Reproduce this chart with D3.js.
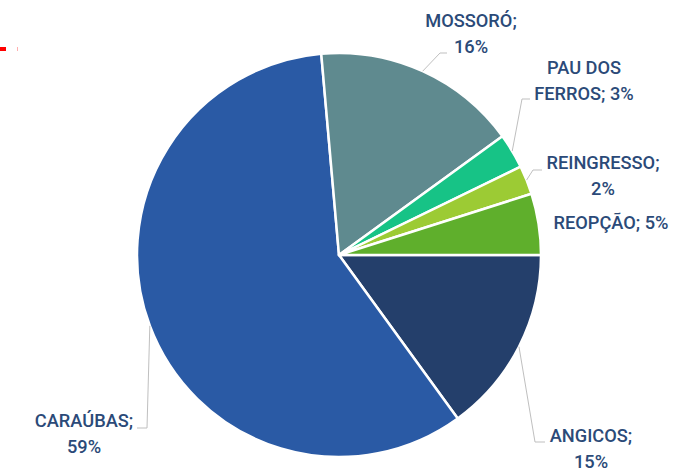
<!DOCTYPE html>
<head>
	<script src="https://d3js.org/d3.v7.min.js"></script>
	<style>
		body { margin: 0; background: #fff; }
		text { font-family: Roboto, "Liberation Sans", sans-serif; font-weight: 500; fill: #2b4a78; }
	</style>
</head>
<body>
<svg></svg>
<script>
	// data, alphabetical like the source sheet
	var campus = ["ANGICOS", "CARAÚBAS", "MOSSORÓ", "PAU DOS FERROS", "REINGRESSO", "REOPÇÃO"];
	var share = [15.0, 58.6, 16.4, 2.8, 2.3, 4.9];
	var labelLines = [["ANGICOS;", "15%"], ["CARAÚBAS;", "59%"], ["MOSSORÓ;", "16%"], ["PAU DOS", "FERROS; 3%"], ["REINGRESSO;", "2%"], ["REOPÇÃO; 5%"]];
	var colors = ["#243f6b", "#2a5aa5", "#5f8a8f", "#17c386", "#9ccb34", "#5faf2c"];

	var width = 697, height = 472;
	var cx = 339, cy = 255, r = 202;

	// label placement: text centre x, first baseline y, leader elbow and end
	var layout = {
		"ANGICOS":        { x: 591, y: 442, elbow: [535, 442], end: [545, 442] },
		"CARAÚBAS":       { x: 84,  y: 427, elbow: [147, 428], end: [137, 428] },
		"MOSSORÓ":        { x: 471, y: 27,  elbow: [440, 53],  end: [447, 53] },
		"PAU DOS FERROS": { x: 584, y: 74,  elbow: [522, 99],  end: [530, 99] },
		"REINGRESSO":     { x: 603, y: 169, elbow: [533, 170], end: [542, 170] },
		"REOPÇÃO":        { x: 611, y: 229 }
	};

	var svg = d3.select("svg")
		.attr("width", width)
		.attr("height", height);

	// small red mark at the left edge
	svg.append("rect").attr("x", 0).attr("y", 47).attr("width", 6).attr("height", 4).attr("fill", "#ff0000");
	svg.append("rect").attr("x", 17).attr("y", 47).attr("width", 1).attr("height", 4).attr("fill", "#ffb0b0");

	var pie = d3.pie()
		.sort(null)
		.value(function(d) { return d; })
		.startAngle(Math.PI / 2)
		.endAngle(Math.PI / 2 + 2 * Math.PI);

	var arcs = pie(share);

	var arc = d3.arc().innerRadius(0).outerRadius(r);
	var edge = d3.arc().innerRadius(r).outerRadius(r);

	var g = svg.append("g").attr("transform", "translate(" + cx + "," + cy + ")");

	g.selectAll("path.slice")
		.data(arcs)
		.enter()
		.append("path")
		.attr("class", "slice")
		.attr("d", arc)
		.attr("fill", function(d, i) { return colors[i]; })
		.attr("stroke", "#fff")
		.attr("stroke-width", 2.5)
		.attr("stroke-linejoin", "round");

	// leader lines
	arcs.forEach(function(d, i) {
		var l = layout[campus[i]];
		if (!l.elbow) return;
		var p = edge.centroid(d);
		var pts = [[p[0] + cx, p[1] + cy], l.elbow, l.end];
		svg.append("path")
			.attr("d", d3.line()(pts))
			.attr("fill", "none")
			.attr("stroke", "#bfbfbf")
			.attr("stroke-width", 1);
	});

	// labels (slightly narrowed to look like the condensed original)
	campus.forEach(function(c, i) {
		var l = layout[c];
		var t = svg.append("g")
			.attr("transform", "translate(" + l.x + "," + l.y + ") scale(0.96,1)");
		labelLines[i].forEach(function(line, k) {
			t.append("text")
				.attr("x", 0)
				.attr("y", k * 26)
				.attr("text-anchor", "middle")
				.attr("font-size", 19)
				.text(line);
		});
	});
</script>
</body>
</html>
